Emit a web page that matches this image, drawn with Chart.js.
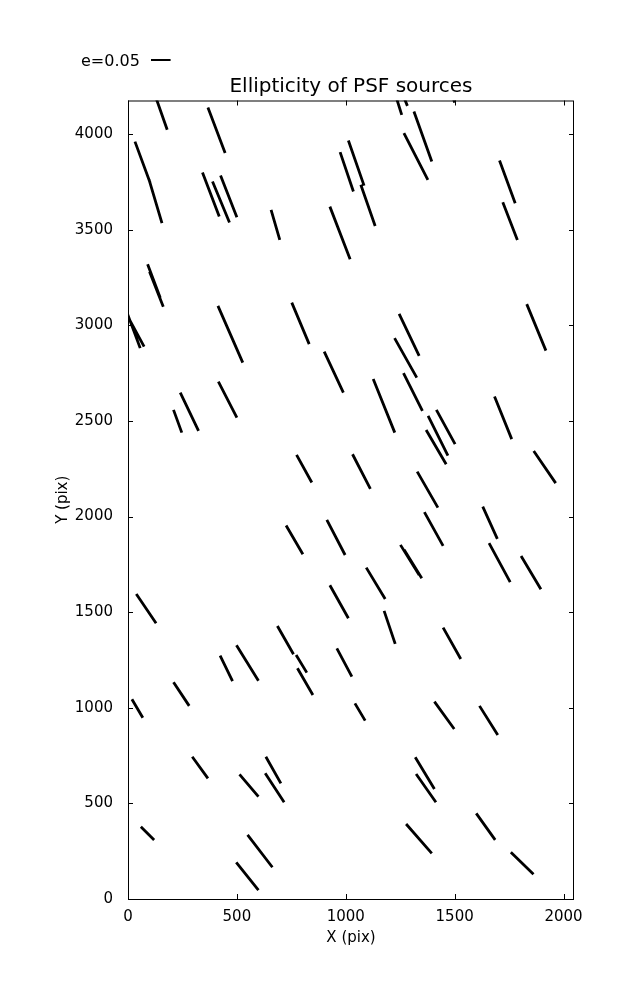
<!DOCTYPE html>
<html>
<head>
<meta charset="utf-8">
<script src="https://cdn.jsdelivr.net/npm/chart.js@4.4.0/dist/chart.umd.min.js"></script>
<style>
  html, body { margin: 0; padding: 0; background: #fff; }
  #wrap { width: 637px; height: 1000px; }
</style>
</head>
<body>
<div id="wrap"><canvas id="myChart" width="637" height="1000"></canvas></div>
<script>
// stick end points, in detector pixels
const x1 = [127, 367, 32, 97, 342, 388, 425, 657, 974, 1012, 1069, 927, 90, 99, 1231, 1266, 1313, 1267, 1706, 1721, 1492,
    -10, -10, 413, 752, 901, 415, 240, 209, 774, 1831, 1245, 1224, 1126, 1265, 1416, 1378, 1369, 1683, 1863, 1031, 1328,
    726, 913, 1361, 1629, 1658, 1805, 1251, 1268, 1094, 38, 927, 1176, 1447, 686, 772, 778, 423, 498, 959, 209, 18,
    1042, 1407, 1614, 295, 512, 633, 630, 59, 549, 497, 1319, 1323, 1277, 1599, 1758]
const y1 = [4195, 4139, 3961, 3761, 3799, 3752, 3784, 3604, 3906, 3967, 3735, 3621, 3320, 3280, 4195, 4195, 4118, 4005, 3862, 3644, 4195,
    3083, 3065, 3102, 3119, 2863, 2706, 2648, 2558, 2323, 3111, 3060, 2933, 2719, 2750, 2558, 2527, 2453, 2628, 2343, 2326, 2235,
    1953, 1983, 2023, 2052, 1861, 1794, 1852, 1826, 1733, 1595, 1641, 1507, 1419, 1428, 1276, 1207, 1273, 1327, 1311, 1134, 1045,
    1023, 1032, 1010, 744, 652, 744, 658, 378, 335, 192, 741, 654, 392, 448, 244]
const x2 = [180, 446, 102, 156, 419, 466, 500, 697, 1035, 1084, 1135, 1020, 148, 162, 1257, 1283, 1395, 1377, 1778, 1788, 1500,
    56, 74, 527, 832, 989, 500, 324, 247, 844, 1919, 1337, 1326, 1225, 1352, 1502, 1469, 1461, 1762, 1964, 1113, 1423,
    803, 997, 1447, 1696, 1755, 1896, 1337, 1349, 1181, 129, 1012, 1227, 1528, 760, 821, 849, 480, 599, 1028, 281, 68,
    1089, 1498, 1698, 367, 599, 702, 717, 120, 663, 599, 1407, 1414, 1395, 1686, 1862]
const y2 = [4023, 3901, 3745, 3535, 3569, 3538, 3566, 3447, 3700, 3731, 3520, 3346, 3144, 3097, 4101, 4148, 3857, 3761, 3639, 3447, 4165,
    2881, 2889, 2805, 2902, 2648, 2518, 2448, 2439, 2178, 2868, 2840, 2727, 2439, 2553, 2379, 2319, 2274, 2405, 2175, 2145, 2047,
    1803, 1799, 1847, 1883, 1657, 1620, 1695, 1678, 1569, 1442, 1468, 1334, 1255, 1280, 1184, 1067, 1140, 1142, 1163, 1010, 948,
    933, 889, 858, 631, 535, 605, 506, 309, 166, 47, 575, 506, 239, 309, 129]

const xTicks = [0, 500, 1000, 1500, 2000]
const yTicks = [0, 500, 1000, 1500, 2000, 2500, 3000, 3500, 4000]
const keyLabel = 'e=0.05'
const keyLength = 90   // length of the e=0.05 key, in x units

// one dataset, segments separated by null points
const pts = []
for (let i = 0; i < x1.length; i++) {
    pts.push({ x: x1[i], y: y1[i] })
    pts.push({ x: x2[i], y: y2[i] })
    pts.push({ x: x2[i], y: null })
}

Chart.defaults.font.family = "'DejaVu Sans', sans-serif"
Chart.defaults.color = '#000'

// frame, inward ticks on all four sides, and the e key
const framePlugin = {
    id: 'frame',
    afterDraw(chart) {
        const ctx = chart.ctx
        const a = chart.chartArea
        const xs = chart.scales.x, ys = chart.scales.y
        ctx.save()
        ctx.strokeStyle = '#000'
        ctx.lineWidth = 1
        ctx.strokeRect(a.left + 0.5, a.top + 0.5, a.right - a.left - 1, a.bottom - a.top)
        ctx.beginPath()
        xTicks.forEach(v => {
            const p = Math.round(xs.getPixelForValue(v)) + 0.5
            ctx.moveTo(p, a.bottom); ctx.lineTo(p, a.bottom - 5)
            ctx.moveTo(p, a.top); ctx.lineTo(p, a.top + 5)
        })
        yTicks.forEach(v => {
            const p = Math.round(ys.getPixelForValue(v)) + 0.5
            ctx.moveTo(a.left, p); ctx.lineTo(a.left + 5, p)
            ctx.moveTo(a.right, p); ctx.lineTo(a.right - 5, p)
        })
        ctx.stroke()

        // key
        ctx.font = "16px 'DejaVu Sans'"
        ctx.fillStyle = '#000'
        ctx.textBaseline = 'alphabetic'
        ctx.fillText(keyLabel, 81, 66)
        const len = xs.getPixelForValue(keyLength) - xs.getPixelForValue(0)
        ctx.lineWidth = 2
        ctx.beginPath()
        ctx.moveTo(151, 60); ctx.lineTo(151 + len, 60)
        ctx.stroke()
        ctx.restore()
    }
}

const config = {
    type: 'line',
    data: {
        datasets: [{
            data: pts,
            borderColor: '#000',
            borderWidth: 2.8,
            borderCapStyle: 'butt',
            pointRadius: 0,
            spanGaps: false,
            clip: 0
        }]
    },
    options: {
        responsive: false,
        animation: false,
        layout: { padding: { left: 50, right: 63, top: 75, bottom: 49 } },
        plugins: {
            legend: { display: false },
            tooltip: { enabled: false },
            title: {
                display: true,
                fullSize: false,
                text: 'Ellipticity of PSF sources',
                font: { size: 20, weight: 'normal' },
                padding: { top: 0, bottom: 1.5 }
            }
        },
        scales: {
            x: {
                type: 'linear',
                min: 0,
                max: 2048,
                grid: { display: false },
                border: { display: false },
                ticks: { font: { size: 15 }, padding: 1, maxRotation: 0, callback: v => String(v) },
                afterBuildTicks: s => { s.ticks = xTicks.map(v => ({ value: v })) },
                afterFit: s => { s.height = 52 },
                title: { display: true, text: 'X (pix)', font: { size: 15 } }
            },
            y: {
                type: 'linear',
                min: 0,
                max: 4176,
                grid: { display: false },
                border: { display: false },
                ticks: { font: { size: 15 }, padding: 7, callback: v => String(v) },
                afterBuildTicks: s => { s.ticks = yTicks.map(v => ({ value: v })) },
                afterFit: s => { s.width = 78 },
                title: { display: true, text: 'Y (pix)', font: { size: 15 } }
            }
        }
    },
    plugins: [framePlugin]
}

const myChart = new Chart(
    document.getElementById('myChart'),
    config
)
</script>
</body>
</html>
